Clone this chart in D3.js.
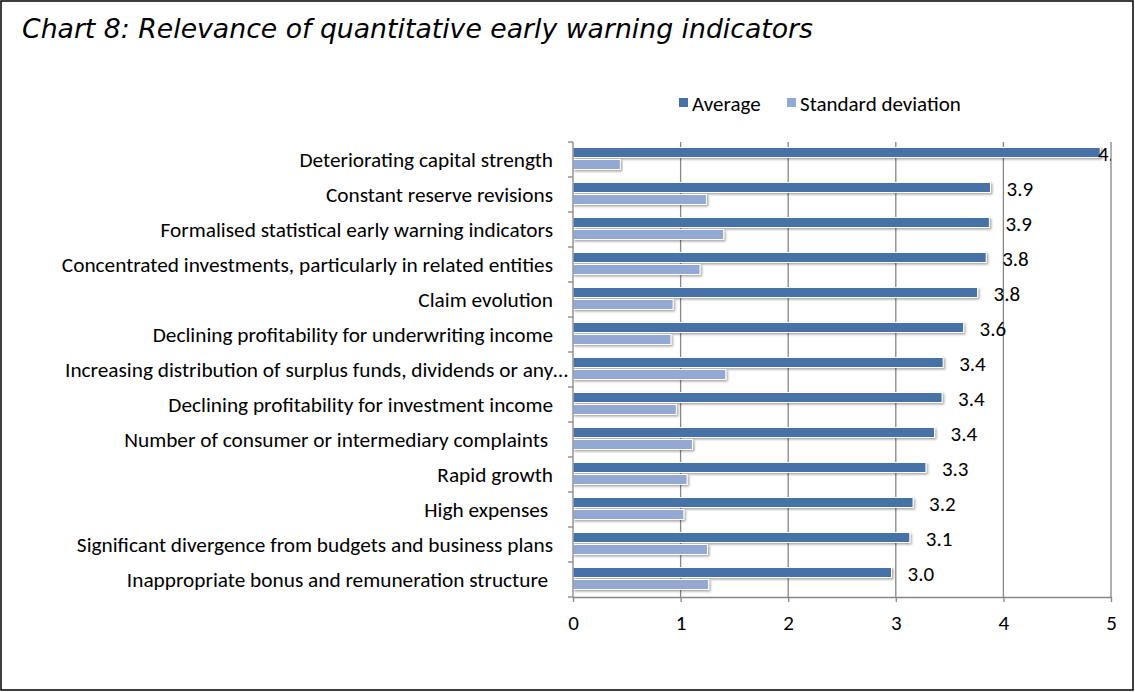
<!DOCTYPE html>
<html>
<head>
<meta charset="utf-8">
<script src="https://cdn.jsdelivr.net/npm/d3@7"></script>
<style>
  body { margin: 0; background: #fff; }
  svg { display: block; }
</style>
</head>
<body>
<svg id="chart" width="1135" height="692"></svg>
<script>
// Chart data
const categories = [
  "Deteriorating capital strength",
  "Constant reserve revisions",
  "Formalised statistical early warning indicators",
  "Concentrated investments, particularly in related entities",
  "Claim evolution",
  "Declining profitability for underwriting income",
  "Increasing distribution of surplus funds, dividends or any\u2026",
  "Declining profitability for investment income",
  "Number of consumer or intermediary complaints ",
  "Rapid growth",
  "High expenses ",
  "Significant divergence from budgets and business plans",
  "Inappropriate bonus and remuneration structure "
];
const averageValues = [4.90, 3.88, 3.87, 3.84, 3.76, 3.63, 3.44, 3.43, 3.36, 3.28, 3.16, 3.13, 2.96];
const stdDevValues  = [0.44, 1.24, 1.40, 1.18, 0.93, 0.91, 1.42, 0.96, 1.11, 1.06, 1.03, 1.25, 1.26];
const seriesNames = ["Average", "Standard deviation"];
const xTicks = [0, 1, 2, 3, 4, 5];

const colors = { avg: "#4672a8", sd: "#93a9d4", axis: "#868686" };
const labelFont = "Carlito, Calibri, 'Open Sans', sans-serif";
const fontSize = "21px";

const svg = d3.select("#chart");
const W = 1135, H = 692;

// outer frame
svg.append("rect")
  .attr("x", 1).attr("y", 1)
  .attr("width", W - 3).attr("height", H - 3)
  .attr("fill", "#fff")
  .attr("stroke", "#000")
  .attr("stroke-width", 1.5);

// title
svg.append("text")
  .attr("x", 22).attr("y", 38)
  .attr("font-family", "'DejaVu Sans', Verdana, sans-serif")
  .attr("font-style", "italic")
  .attr("font-size", "26.7px")
  .attr("fill", "#000")
  .text("Chart 8: Relevance of quantitative early warning indicators");

// plot area
const plot = { left: 573, right: 1111, top: 142, bottom: 597 };

const x = d3.scaleLinear().domain([0, 5]).range([plot.left, plot.right]);
const y = d3.scaleBand().domain(categories).range([plot.top, plot.bottom]);

const defs = svg.append("defs");
const shadow = defs.append("filter").attr("id", "shadow")
  .attr("x", "-5%").attr("y", "-50%").attr("width", "110%").attr("height", "200%");
shadow.append("feDropShadow")
  .attr("dx", 1.5).attr("dy", 1.5).attr("stdDeviation", 1)
  .attr("flood-color", "#000").attr("flood-opacity", 0.35);

defs.append("clipPath").attr("id", "plotClip")
  .append("rect")
  .attr("x", plot.left).attr("y", plot.top - 10)
  .attr("width", plot.right - plot.left).attr("height", plot.bottom - plot.top + 10);

// gridlines
svg.append("g")
  .selectAll("line")
  .data(xTicks.slice(1))
  .enter()
  .append("line")
  .attr("x1", d => x(d)).attr("x2", d => x(d))
  .attr("y1", plot.top).attr("y2", plot.bottom)
  .attr("stroke", colors.axis)
  .attr("stroke-width", 1.3);

// bars
const barH = 10;
const rows = svg.append("g")
  .selectAll("g")
  .data(categories)
  .enter()
  .append("g")
  .attr("transform", d => `translate(0, ${y(d)})`);

rows.append("rect")
  .attr("x", x(0))
  .attr("y", 5.5)
  .attr("width", (d, i) => x(averageValues[i]) - x(0))
  .attr("height", barH)
  .attr("fill", colors.avg)
  .attr("stroke", "#fff")
  .attr("stroke-width", 1)
  .attr("filter", "url(#shadow)");

rows.append("rect")
  .attr("x", x(0))
  .attr("y", 5.5 + barH + 2)
  .attr("width", (d, i) => x(stdDevValues[i]) - x(0))
  .attr("height", barH)
  .attr("fill", colors.sd)
  .attr("stroke", "#fff")
  .attr("stroke-width", 1)
  .attr("filter", "url(#shadow)");

// data labels on the average bars
svg.append("g")
  .attr("clip-path", "url(#plotClip)")
  .selectAll("text")
  .data(categories)
  .enter()
  .append("text")
  .attr("x", (d, i) => Math.min(x(averageValues[i]) + 16, plot.right - 13))
  .attr("y", d => y(d) + 5.5 + barH / 2 + 1)
  .attr("dy", "0.35em")
  .attr("font-family", labelFont)
  .attr("font-size", fontSize)
  .attr("fill", "#000")
  .text((d, i) => d3.format(".1f")(averageValues[i]));

// y axis
const yAxis = svg.append("g");
yAxis.append("line")
  .attr("x1", plot.left).attr("x2", plot.left)
  .attr("y1", plot.top).attr("y2", plot.bottom)
  .attr("stroke", colors.axis).attr("stroke-width", 1.3);
yAxis.selectAll("line.tick")
  .data(d3.range(categories.length + 1))
  .enter()
  .append("line")
  .attr("class", "tick")
  .attr("x1", plot.left - 5).attr("x2", plot.left)
  .attr("y1", i => plot.top + i * y.step())
  .attr("y2", i => plot.top + i * y.step())
  .attr("stroke", colors.axis).attr("stroke-width", 1.3);
yAxis.selectAll("text")
  .data(categories)
  .enter()
  .append("text")
  // the truncated label sits a bit further right, as in the original
  .attr("x", d => d.endsWith("\u2026") ? 568 : 553)
  .attr("y", d => y(d) + y.bandwidth() / 2)
  .attr("dy", "0.35em")
  .attr("text-anchor", "end")
  .attr("font-family", labelFont)
  .attr("font-size", "21.3px")
  .attr("fill", "#000")
  .style("white-space", "pre")
  .text(d => d);

// x axis
const xAxis = svg.append("g")
  .attr("transform", `translate(0, ${plot.bottom})`)
  .call(d3.axisBottom(x).tickValues(xTicks).tickFormat(d3.format("d")).tickSize(5).tickSizeOuter(0));
xAxis.select(".domain").attr("stroke", colors.axis).attr("stroke-width", 1.3);
xAxis.selectAll(".tick line").attr("stroke", colors.axis).attr("stroke-width", 1.3);
xAxis.selectAll(".tick text")
  .attr("y", 26)
  .attr("dy", "0.35em")
  .attr("font-family", labelFont)
  .attr("font-size", fontSize)
  .attr("fill", "#000");

// legend
const legend = svg.append("g").attr("transform", "translate(679, 103)");
const legendX = [0, 108];
seriesNames.forEach((name, i) => {
  const g = legend.append("g").attr("transform", `translate(${legendX[i]}, 0)`);
  g.append("rect")
    .attr("x", 0).attr("y", -5)
    .attr("width", 9).attr("height", 9)
    .attr("fill", i === 0 ? colors.avg : colors.sd);
  g.append("text")
    .attr("x", 13).attr("y", 1)
    .attr("dy", "0.35em")
    .attr("font-family", labelFont)
    .attr("font-size", fontSize)
    .attr("fill", "#000")
    .text(name);
});
</script>
</body>
</html>
